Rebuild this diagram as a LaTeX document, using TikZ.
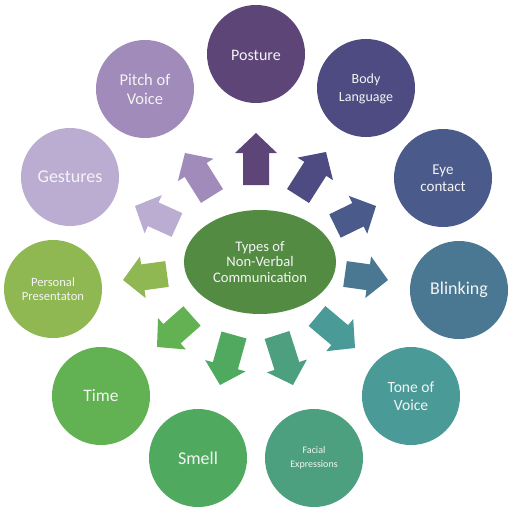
\documentclass[tikz,border=0pt]{standalone}
\usepackage{fontspec}
\setmainfont{Carlito}
\usetikzlibrary{calc,shapes.geometric}
\definecolor{cPost}{HTML}{5E4577}
\definecolor{cBody}{HTML}{4E4A82}
\definecolor{cEye}{HTML}{4A5A8A}
\definecolor{cBlink}{HTML}{4A7892}
\definecolor{cTone}{HTML}{4A9A98}
\definecolor{cFace}{HTML}{4DA07F}
\definecolor{cSmell}{HTML}{4FAA60}
\definecolor{cTime}{HTML}{62B152}
\definecolor{cPers}{HTML}{8FB853}
\definecolor{cGest}{HTML}{BBADD1}
\definecolor{cPitch}{HTML}{A08BBB}
\definecolor{cCent}{HTML}{538B43}
\definecolor{cTxt}{HTML}{F4F4F4}
\newcommand{\blockarr}[3]{%
  \coordinate (aN) at ($(#2)!20pt!(#1)$);
  \fill[#3] ($(#1)!13pt!90:(#2)$) -- ($(aN)!13pt!90:(#2)$) -- ($(aN)!21pt!90:(#2)$)
    -- (#2) -- ($(aN)!21pt!-90:(#2)$) -- ($(aN)!13pt!-90:(#2)$) -- ($(#1)!13pt!-90:(#2)$) -- cycle;
}
\tikzset{
  bub/.style={circle, minimum size=98pt, inner sep=0pt, text=cTxt, align=center},
}
\begin{document}
\begin{tikzpicture}[x=1pt,y=-1pt]
\useasboundingbox (0,0) rectangle (514,516);
\fill[white] (0,0) rectangle (514,516);
% center
\node[ellipse, minimum width=152pt, minimum height=104pt, inner sep=0pt, fill=cCent, text=cTxt, align=center,
  font=\fontsize{14.6}{15.5}\selectfont] (cen) at (260,262) {Types of\\Non-Verbal\\Communication};
% circles
\node[bub, fill=cPost, font=\fontsize{16}{19}\selectfont, text height=17pt, text depth=3.5pt] (post) at (256,54) {Posture};
\node[bub, fill=cBody, font=\fontsize{14}{18}\selectfont, text depth=0pt] (body) at (366,88) {Body\\Language};
\node[bub, fill=cEye, font=\fontsize{15}{17}\selectfont] (eye) at (443,178) {Eye\\contact};
\node[bub, fill=cBlink, font=\fontsize{18}{20}\selectfont] (blink) at (459,290) {Blinking};
\node[bub, fill=cTone, font=\fontsize{15.6}{18.3}\selectfont] (tone) at (411,396) {Tone of\\Voice};
\node[bub, fill=cFace, font=\fontsize{10}{14}\selectfont] (face) at (314,458) {Facial\\Expressions};
\node[bub, fill=cSmell, font=\fontsize{18}{20}\selectfont] (smell) at (198,458) {Smell};
\node[bub, fill=cTime, font=\fontsize{17.5}{20}\selectfont] (time) at (101,396) {Time};
\node[bub, fill=cPers, font=\fontsize{12.6}{14.3}\selectfont] (pers) at (53,289) {Personal\\Presentaton};
\node[bub, fill=cGest, font=\fontsize{18}{20}\selectfont] (gest) at (70,177) {Gestures};
\node[bub, fill=cPitch, font=\fontsize{16.5}{19}\selectfont] (pitch) at (145,89) {Pitch of\\Voice};
% arrow coordinates
\coordinate (tPost) at (256,185);  \coordinate (hPost) at (256,133);
\coordinate (tBody) at (298,196);  \coordinate (hBody) at (326,152);
\coordinate (tEye) at (335,226);   \coordinate (hEye) at (376,206);
\coordinate (tBlink) at (345,274); \coordinate (hBlink) at (388,280);
\coordinate (tTone) at (317,316);  \coordinate (hTone) at (355,348);
\coordinate (tFace) at (277,335);  \coordinate (hFace) at (293,385);
\coordinate (tSmell) at (234,335); \coordinate (hSmell) at (220,385);
\coordinate (tTime) at (192,316);  \coordinate (hTime) at (157,347);
\coordinate (tPers) at (167,274);  \coordinate (hPers) at (123,280);
\coordinate (tGest) at (177,225);  \coordinate (hGest) at (135,206);
\coordinate (tPitch) at (212,196); \coordinate (hPitch) at (185,153);
\blockarr{tPost}{hPost}{cPost}
\blockarr{tBody}{hBody}{cBody}
\blockarr{tEye}{hEye}{cEye}
\blockarr{tBlink}{hBlink}{cBlink}
\blockarr{tTone}{hTone}{cTone}
\blockarr{tFace}{hFace}{cFace}
\blockarr{tSmell}{hSmell}{cSmell}
\blockarr{tTime}{hTime}{cTime}
\blockarr{tPers}{hPers}{cPers}
\blockarr{tGest}{hGest}{cGest}
\blockarr{tPitch}{hPitch}{cPitch}
\end{tikzpicture}
\end{document}
